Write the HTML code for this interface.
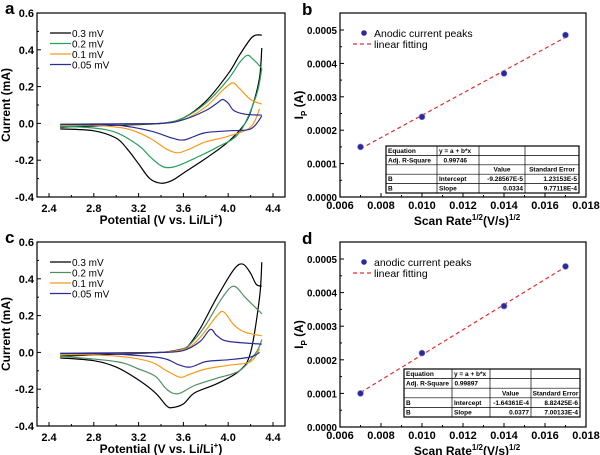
<!DOCTYPE html>
<html><head><meta charset="utf-8">
<style>
html,body{margin:0;padding:0;background:#fff;}
svg{display:block;font-family:"Liberation Sans",Arial,sans-serif;}
</style></head>
<body>
<svg id="fig" width="600" height="455" viewBox="0 0 600 455" xmlns="http://www.w3.org/2000/svg"></svg>
<script>
// ---- CV data (panel a) ----
const aBlackAn = [[2.5,-0.02],[3.0,-0.01],[3.4,0.0],[3.6,0.03],[3.8,0.12],[4.0,0.27],[4.1,0.37],[4.2,0.46],[4.25,0.48],[4.3,0.48]];
const aBlackCa = [[4.3,0.41],[4.28,0.25],[4.22,0.1],[4.15,0.0],[4.0,-0.1],[3.8,-0.19],[3.6,-0.27],[3.5,-0.31],[3.4,-0.325],[3.3,-0.3],[3.2,-0.22],[3.1,-0.14],[3.0,-0.08],[2.8,-0.04],[2.5,-0.03]];
const aGreenAn = [[2.5,-0.015],[3.0,-0.005],[3.4,0.0],[3.6,0.03],[3.8,0.11],[4.0,0.24],[4.1,0.33],[4.17,0.37],[4.22,0.35],[4.3,0.3]];
const aGreenCa = [[4.3,0.3],[4.25,0.15],[4.1,-0.05],[3.9,-0.13],[3.7,-0.19],[3.55,-0.23],[3.47,-0.24],[3.4,-0.23],[3.3,-0.18],[3.2,-0.12],[3.0,-0.05],[2.8,-0.025],[2.5,-0.015]];
const aOrangeAn = [[2.5,-0.01],[3.0,-0.004],[3.4,0.0],[3.6,0.02],[3.8,0.09],[3.95,0.18],[4.04,0.22],[4.1,0.19],[4.2,0.13],[4.3,0.105]];
const aOrangeCa = [[4.28,0.08],[4.2,-0.02],[4.0,-0.07],[3.8,-0.1],[3.65,-0.14],[3.55,-0.16],[3.45,-0.14],[3.3,-0.08],[3.1,-0.03],[2.8,-0.01],[2.5,-0.01]];
const aBlueAn = [[2.5,-0.005],[3.0,-0.002],[3.4,0.0],[3.6,0.02],[3.8,0.07],[3.9,0.11],[3.95,0.13],[4.0,0.11],[4.05,0.07],[4.15,0.05],[4.3,0.045]];
const aBlueCa = [[4.3,0.04],[4.2,-0.03],[4.0,-0.04],[3.8,-0.05],[3.7,-0.07],[3.6,-0.09],[3.5,-0.08],[3.3,-0.04],[3.0,-0.01],[2.5,-0.005]];
// ---- CV data (panel c) ----
const cBlackAn = [[2.5,-0.02],[3.0,-0.01],[3.4,0.0],[3.6,0.02],[3.65,0.04],[3.75,0.13],[3.9,0.3],[4.05,0.45],[4.13,0.48],[4.2,0.43],[4.25,0.37],[4.3,0.36]];
const cBlackCa = [[4.3,0.49],[4.28,0.3],[4.2,0.0],[4.1,-0.1],[3.9,-0.17],[3.7,-0.22],[3.6,-0.28],[3.5,-0.3],[3.45,-0.29],[3.35,-0.22],[3.2,-0.15],[3.0,-0.08],[2.8,-0.045],[2.5,-0.03]];
const cGreenAn = [[2.5,-0.015],[3.0,-0.005],[3.4,0.0],[3.6,0.02],[3.7,0.07],[3.8,0.15],[3.95,0.3],[4.05,0.36],[4.15,0.3],[4.25,0.24],[4.3,0.21]];
const cGreenCa = [[4.3,0.07],[4.25,0.0],[4.1,-0.1],[3.9,-0.14],[3.7,-0.18],[3.55,-0.225],[3.45,-0.2],[3.35,-0.13],[3.2,-0.09],[3.0,-0.05],[2.5,-0.02]];
const cOrangeAn = [[2.5,-0.01],[3.0,-0.003],[3.4,0.0],[3.6,0.015],[3.7,0.05],[3.8,0.12],[3.9,0.2],[3.96,0.22],[4.05,0.15],[4.15,0.11],[4.3,0.09]];
const cOrangeCa = [[4.28,0.02],[4.2,-0.05],[4.0,-0.07],[3.8,-0.09],[3.65,-0.12],[3.57,-0.135],[3.45,-0.1],[3.3,-0.05],[3.0,-0.02],[2.5,-0.01]];
const cBlueAn = [[2.5,-0.005],[3.0,-0.002],[3.4,0.0],[3.6,0.01],[3.75,0.06],[3.84,0.125],[3.9,0.09],[4.0,0.06],[4.3,0.045]];
const cBlueCa = [[4.28,0.0],[4.2,-0.025],[4.0,-0.04],[3.8,-0.05],[3.66,-0.08],[3.55,-0.065],[3.4,-0.03],[3.0,-0.01],[2.5,-0.005]];
const cvXTicks = [2.4,2.8,3.2,3.6,4.0,4.4];
const cvYTicks = [-0.4,-0.2,0.0,0.2,0.4,0.6];
const cvLegend = ["0.3 mV","0.2 mV","0.1 mV","0.05 mV"];
// ---- peak data ----
const rateX = [0.007,0.010,0.014,0.017];
const peaksB = [0.00015,0.00024,0.00037,0.000485];
const peaksD = [0.0001,0.00022,0.00036,0.000478];
const lxTicks = [0.006,0.008,0.010,0.012,0.014,0.016,0.018];
const lyTicks = [0,0.0001,0.0002,0.0003,0.0004,0.0005];
const tableB = [["Equation","y = a + b*x","",""],["Adj. R-Square","0.99746","",""],["","","Value","Standard Error"],["B","Intercept","-9.28567E-5","1.23153E-5"],["B","Slope","0.0334","9.77118E-4"]];
const tableD = [["Equation","y = a + b*x","",""],["Adj. R-Square","0.99897","",""],["","","Value","Standard Error"],["B","Intercept","-1.64361E-4","8.82425E-6"],["B","Slope","0.0377","7.00133E-4"]];

const NS="http://www.w3.org/2000/svg";
const fig=document.getElementById('fig');
function mk(tag,attrs,parent,text){const e=document.createElementNS(NS,tag);for(const k in attrs)e.setAttribute(k,attrs[k]);if(text!==undefined)e.textContent=text;(parent||fig).appendChild(e);return e;}
function smooth(pts){let d='M'+pts[0][0].toFixed(1)+','+pts[0][1].toFixed(1);
 for(let i=0;i<pts.length-1;i++){const p0=pts[i-1]||pts[i],p1=pts[i],p2=pts[i+1],p3=pts[i+2]||p2;
  const c1=[p1[0]+(p2[0]-p0[0])/6,p1[1]+(p2[1]-p0[1])/6],c2=[p2[0]-(p3[0]-p1[0])/6,p2[1]-(p3[1]-p1[1])/6];
  d+=' C'+c1[0].toFixed(1)+','+c1[1].toFixed(1)+' '+c2[0].toFixed(1)+','+c2[1].toFixed(1)+' '+p2[0].toFixed(1)+','+p2[1].toFixed(1);}
 return d;}
function frame(g,L,T,R,B,name){const r=mk('rect',{x:L,y:T,width:R-L,height:B-T,fill:'none',stroke:'#000','stroke-width':1.2},g);
 
 }

function cvPanel(letter,L,T,R,B,series,greenCol){
 const g=mk('g',{});
 
 
 const xs=v=>L+12+(v-2.4)*(R-L-24)/2.0;
 const ys=v=>B-(v+0.4)*(B-T);
 frame(g,L,T,R,B,'plot-frame-'+letter);
 cvXTicks.forEach(t=>{const x=xs(t);mk('line',{x1:x,x2:x,y1:B,y2:B-4,stroke:'#000'},g);
  const lb=mk('text',{x:x,y:B+15,'font-size':11,'font-weight':'bold','text-anchor':'middle'},g,t.toFixed(1));
  });
 for(let i=0;i<cvXTicks.length-1;i++){const x=xs(cvXTicks[i]+0.2);mk('line',{x1:x,x2:x,y1:B,y2:B-2,stroke:'#000'},g);}
 cvYTicks.forEach(t=>{const y=ys(t);mk('line',{x1:L,x2:L+4,y1:y,y2:y,stroke:'#000'},g);
  const lb=mk('text',{x:L-3,y:y+4,'font-size':11,'font-weight':'bold','text-anchor':'end'},g,t.toFixed(1));
  });
 for(let i=0;i<cvYTicks.length-1;i++){const y=ys(cvYTicks[i]+0.1);mk('line',{x1:L,x2:L+2,y1:y,y2:y,stroke:'#000'},g);}
 const colors=['#000',greenCol,'#f39c1a','#2b2b96'];
 series.forEach((s,i)=>{
  [s[0],s[1]].forEach((arr,j)=>{const p=mk('path',{d:smooth(arr.map(q=>[xs(q[0]),ys(q[1])])),fill:'none',stroke:colors[i],'stroke-width':1.2},g);
   
   });
 });
 cvLegend.forEach((t,i)=>{const y=T+20+i*10.5;mk('line',{x1:L+13,x2:L+34,y1:y,y2:y,stroke:colors[i],'stroke-width':1.3},g);
  const lb=mk('text',{x:L+35,y:y+4,'font-size':10},g,t);
  });
 const yt=mk('text',{transform:`translate(${L-27},${(T+B)/2}) rotate(-90)`,'font-size':12,'font-weight':'bold','text-anchor':'middle'},g,'Current (mA)');
 
 const xt=mk('text',{x:(L+R)/2,y:B+27,'font-size':12,'font-weight':'bold','text-anchor':'middle'},g);
 
 mk('tspan',{},xt,'Potential (V vs. Li/Li');mk('tspan',{dy:-5,'font-size':8},xt,'+');mk('tspan',{dy:5},xt,')');
 const pl=mk('text',{x:L-32,y:T+1,'font-size':17,'font-weight':'bold'},g,letter);
 
}

function linPanel(letter,L,T,R,B,y0,y5,vals,legendText,table,tb){
 const g=mk('g',{});
 
 
 const xs=v=>L+(v-0.006)*(R-L)/0.012;
 const ys=v=>y0-(v/0.0005)*(y0-y5);
 frame(g,L,T,R,B,'plot-frame-'+letter);
 lxTicks.forEach(t=>{const x=xs(t);mk('line',{x1:x,x2:x,y1:B,y2:B-4,stroke:'#000'},g);
  const lb=mk('text',{x:x,y:B+12,'font-size':11,'font-weight':'bold','text-anchor':'middle'},g,t.toFixed(3));
  });
 for(let i=0;i<lxTicks.length-1;i++){const x=xs(lxTicks[i]+0.001);mk('line',{x1:x,x2:x,y1:B,y2:B-2,stroke:'#000'},g);}
 lyTicks.forEach(t=>{const y=ys(t);mk('line',{x1:L,x2:L+4,y1:y,y2:y,stroke:'#000'},g);
  const lb=mk('text',{x:L-3,y:y+4,'font-size':10.5,'font-weight':'bold','text-anchor':'end',textLength:30,lengthAdjust:'spacingAndGlyphs'},g,t.toFixed(4));
  });
 for(let i=0;i<lyTicks.length-1;i++){const y=ys(lyTicks[i]+0.00005);mk('line',{x1:L,x2:L+2,y1:y,y2:y,stroke:'#000'},g);}
 const n=vals.length,mx=rateX.reduce((a,b)=>a+b)/n,my=vals.reduce((a,b)=>a+b)/n;
 let sxy=0,sxx=0;rateX.forEach((x,i)=>{sxy+=(x-mx)*(vals[i]-my);sxx+=(x-mx)**2;});
 const sl=sxy/sxx,ic=my-sl*mx;
 const fl=mk('line',{x1:xs(rateX[0]),y1:ys(ic+sl*rateX[0]),x2:xs(rateX[n-1]),y2:ys(ic+sl*rateX[n-1]),stroke:'#e03030','stroke-width':1.2,'stroke-dasharray':'4,3'},g);
 
 rateX.forEach((x,i)=>{const c=mk('circle',{cx:xs(x),cy:ys(vals[i]),r:3,fill:'#2a2a9e',stroke:'#8888cc','stroke-width':0.6},g);
  });
 mk('circle',{cx:L+24,cy:T+20,r:2.8,fill:'#2a2a9e'},g);
 const l1=mk('text',{x:L+34,y:T+24,'font-size':10.5},g,legendText);
 
 mk('line',{x1:L+13,x2:L+32,y1:T+31,y2:T+31,stroke:'#e03030','stroke-width':1.2,'stroke-dasharray':'4,3'},g);
 const l2=mk('text',{x:L+34,y:T+35,'font-size':10.5},g,'linear fitting');
 
 const [tx0,ty0,tx1,ty1,cols]=tb;const rh=(ty1-ty0)/5;
 const tg=mk('g',{},g);
 
 mk('rect',{x:tx0,y:ty0,width:tx1-tx0,height:ty1-ty0,fill:'#fff',stroke:'#000','stroke-width':1.2},tg);
 for(let r=1;r<5;r++)mk('line',{x1:tx0,x2:tx1,y1:ty0+r*rh,y2:ty0+r*rh,stroke:'#000','stroke-width':0.7},tg);
 cols.forEach(c=>mk('line',{x1:c,x2:c,y1:ty0,y2:ty1,stroke:'#000','stroke-width':0.7},tg));
 const edges=[tx0,...cols,tx1];
 table.forEach((row,r)=>row.forEach((t,c)=>{if(!t)return;const y=ty0+r*rh+rh-2.5;
  let x,anc='start';
  if(r>=2&&c>=2){x=edges[c+1]-2;anc='end';} else if(r==1&&c==1){x=edges[2]-12;anc='end';} else x=edges[c]+2;
  if(r==2){x=(edges[c]+edges[c+1])/2;anc='middle';}
  mk('text',{x:x,y:y,'font-size':6.5,'font-weight':'bold','text-anchor':anc},tg,t);}));
 const yt=mk('text',{transform:`translate(${L-37},${(T+B)/2}) rotate(-90)`,'font-size':12,'font-weight':'bold','text-anchor':'middle'},g);
 
 mk('tspan',{},yt,'I');mk('tspan',{dy:4,'font-size':8},yt,'P');mk('tspan',{dy:-4},yt,' (A)');
 const xt=mk('text',{x:(L+R)/2+4,y:B+28,'font-size':12,'font-weight':'bold','text-anchor':'middle'},g);
 
 mk('tspan',{},xt,'Scan Rate');mk('tspan',{dy:-5,'font-size':8},xt,'1/2');mk('tspan',{dy:5},xt,'(V/s)');mk('tspan',{dy:-5,'font-size':8},xt,'1/2');
 const pl=mk('text',{x:L-38,y:T+2,'font-size':17,'font-weight':'bold'},g,letter);
 
}

cvPanel('a',37,13,285,197,[[aBlackAn,aBlackCa],[aGreenAn,aGreenCa],[aOrangeAn,aOrangeCa],[aBlueAn,aBlueCa]],'#2aa05a');
cvPanel('c',37,242,285,426,[[cBlackAn,cBlackCa],[cGreenAn,cGreenCa],[cOrangeAn,cOrangeCa],[cBlueAn,cBlueCa]],'#4e8f62');
linPanel('b',340,13,586,197,197,30,peaksB,'Anodic current peaks',tableB,[386,146,579,193,[437,479,525]]);
linPanel('d',340,242,586,427,427,259,peaksD,'anodic current peaks',tableD,[404,369,580,417,[452,490,531]]);
</script>
</body></html>
